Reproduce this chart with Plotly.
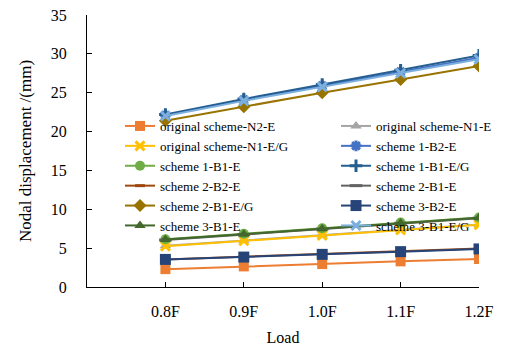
import plotly.graph_objects as go

loads = ["0.8F", "0.9F", "1.0F", "1.1F", "1.2F"]

names = [
    "original scheme-N2-E", "original scheme-N1-E",
    "original scheme-N1-E/G", "scheme 1-B2-E",
    "scheme 1-B1-E", "scheme 1-B1-E/G",
    "scheme 2-B2-E", "scheme 2-B1-E",
    "scheme 2-B1-E/G", "scheme 3-B2-E",
    "scheme 3-B1-E", "scheme 3-B1-E/G",
]

n2_e = [2.3, 2.65, 2.95, 3.3, 3.6]
n1_e = [5.3, 6.0, 6.7, 7.4, 8.05]
n1_eg = [5.25, 5.95, 6.65, 7.35, 8.0]
s1_b2_e = [22.1, 24.1, 25.9, 27.7, 29.5]
s1_b1_e = [6.15, 6.85, 7.55, 8.3, 8.95]
s1_b1_eg = [22.2, 24.2, 26.05, 27.9, 29.8]
s2_b2_e = [3.55, 3.9, 4.25, 4.6, 4.95]
s2_b1_e = [6.05, 6.75, 7.45, 8.2, 8.85]
s2_b1_eg = [21.4, 23.2, 25.0, 26.7, 28.45]
s3_b2_e = [3.55, 3.85, 4.2, 4.55, 4.9]
s3_b1_e = [6.1, 6.8, 7.5, 8.25, 8.9]
s3_b1_eg = [22.0, 23.95, 25.75, 27.5, 29.3]

series = [n2_e, n1_e, n1_eg, s1_b2_e, s1_b1_e, s1_b1_eg,
          s2_b2_e, s2_b1_e, s2_b1_eg, s3_b2_e, s3_b1_e, s3_b1_eg]

colors = ["#ED7D31", "#A5A5A5", "#FFC000", "#4472C4", "#70AD47", "#255E91",
          "#9E480E", "#636363", "#997300", "#264478", "#43682B", "#7CAFDD"]
symbols = ["square", "triangle-up", "x-thin-open", "asterisk-open", "circle", "cross-thin-open",
           "line-ew-open", "line-ew-open", "diamond", "square", "triangle-up", "x-thin-open"]
sizes = [10, 10, 9, 9, 10, 9, 7, 9, 10, 11, 10, 9]

fig = go.Figure()
for i, (name, vals, c, s, sz) in enumerate(zip(names, series, colors, symbols, sizes)):
    open_sym = s.endswith("open")
    fig.add_trace(go.Scatter(
        x=loads, y=vals, name=name, mode="lines+markers",
        legend="legend" if i % 2 == 0 else "legend2",
        line=dict(color=c, width=2),
        marker=dict(symbol=s, size=sz, color=c,
                    line=dict(color=c, width=3 if open_sym else 0)),
    ))

font_family = "Liberation Serif"
legend_common = dict(
    orientation="v", xanchor="left", yanchor="top", y=(287 - 111) / 272,
    bgcolor="rgba(0,0,0,0)", font=dict(size=13, family=font_family, color="black"),
    tracegroupgap=0, traceorder="normal", borderwidth=0,
)
fig.update_layout(
    width=515, height=351,
    margin=dict(l=87, r=36, t=15, b=64),
    paper_bgcolor="white", plot_bgcolor="white",
    font=dict(family=font_family, color="black", size=16),
    showlegend=True,
    legend=dict(x=(120 - 87) / 392, **legend_common),
    legend2=dict(x=(336 - 87) / 392, **legend_common),
    xaxis=dict(
        type="category", range=[-1, 4], automargin=False,
        showline=True, linecolor="black", linewidth=1,
        ticks="inside", ticklen=5, tickcolor="black",
        showgrid=False, zeroline=False,
        ticklabelstandoff=10,
        tickfont=dict(size=16, family=font_family),
        title=dict(text="Load", font=dict(size=16, family=font_family), standoff=12),
    ),
    yaxis=dict(
        range=[0, 35], dtick=5, automargin=False,
        showline=True, linecolor="black", linewidth=1,
        ticks="inside", ticklen=5, tickcolor="black",
        showgrid=False, zeroline=False,
        ticklabelstandoff=16,
        tickfont=dict(size=16, family=font_family),
        title=dict(text="Nodal displacement /(mm)", font=dict(size=17, family=font_family), standoff=14),
    ),
)

fig.write_html("out.html")
